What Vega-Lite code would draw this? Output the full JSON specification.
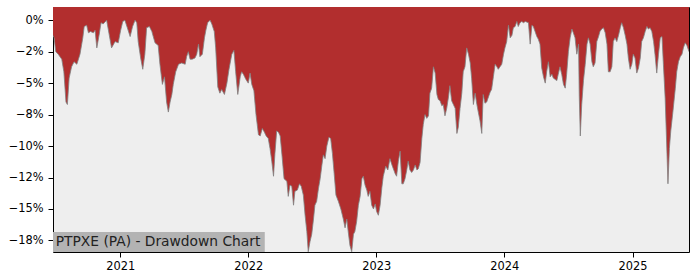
{
  "$schema": "https://vega.github.io/schema/vega-lite/v6.json",
  "width": 636,
  "height": 245,
  "autosize": {"type": "none"},
  "padding": {"left": 53, "top": 7, "right": 11, "bottom": 28},
  "background": "white",
  "config": {
    "view": {"fill": "#eeeeee", "stroke": "#000000", "strokeWidth": 1},
    "font": "DejaVu Sans",
    "axis": {"grid": false, "domain": false, "title": null}
  },
  "layer": [
    {
      "data": {"name": "dd", "values": [
    {"date": "2020-06-23", "dd": -1.2}, {"date": "2020-06-26", "dd": -1.4}, {"date": "2020-07-01", "dd": -2.5}, {"date": "2020-07-08", "dd": -2.7},
    {"date": "2020-07-18", "dd": -3.1}, {"date": "2020-07-24", "dd": -4.1}, {"date": "2020-07-30", "dd": -6.5}, {"date": "2020-08-03", "dd": -6.7},
    {"date": "2020-08-08", "dd": -4.6}, {"date": "2020-08-15", "dd": -3.7}, {"date": "2020-08-22", "dd": -3.3}, {"date": "2020-08-30", "dd": -3.5},
    {"date": "2020-09-08", "dd": -2.7}, {"date": "2020-09-16", "dd": -1.4}, {"date": "2020-09-20", "dd": -0.5}, {"date": "2020-09-27", "dd": -0.4},
    {"date": "2020-10-02", "dd": -1.0}, {"date": "2020-10-08", "dd": -0.9}, {"date": "2020-10-16", "dd": -1.0}, {"date": "2020-10-21", "dd": -0.8},
    {"date": "2020-10-26", "dd": -2.2}, {"date": "2020-11-02", "dd": -1.1}, {"date": "2020-11-07", "dd": -0.2}, {"date": "2020-11-13", "dd": -0.3},
    {"date": "2020-11-23", "dd": 0}, {"date": "2020-11-30", "dd": -1.1}, {"date": "2020-12-07", "dd": -2.2}, {"date": "2020-12-17", "dd": -1.7},
    {"date": "2020-12-26", "dd": -1.8}, {"date": "2021-01-02", "dd": -0.8}, {"date": "2021-01-08", "dd": -0.1}, {"date": "2021-01-14", "dd": 0},
    {"date": "2021-01-21", "dd": -0.6}, {"date": "2021-01-29", "dd": -1.3}, {"date": "2021-02-05", "dd": -0.5}, {"date": "2021-02-12", "dd": 0},
    {"date": "2021-02-17", "dd": -0.2}, {"date": "2021-02-21", "dd": -1.7}, {"date": "2021-02-28", "dd": -3.0}, {"date": "2021-03-06", "dd": -3.9},
    {"date": "2021-03-12", "dd": -2.7}, {"date": "2021-03-17", "dd": -0.6}, {"date": "2021-03-25", "dd": -0.5}, {"date": "2021-04-01", "dd": -0.9},
    {"date": "2021-04-10", "dd": -1.8}, {"date": "2021-04-19", "dd": -2.0}, {"date": "2021-04-24", "dd": -3.5}, {"date": "2021-05-01", "dd": -5.1},
    {"date": "2021-05-07", "dd": -4.5}, {"date": "2021-05-13", "dd": -6.5}, {"date": "2021-05-18", "dd": -7.3}, {"date": "2021-05-23", "dd": -6.5},
    {"date": "2021-05-28", "dd": -5.9}, {"date": "2021-06-01", "dd": -5.1}, {"date": "2021-06-08", "dd": -4.1}, {"date": "2021-06-16", "dd": -3.5},
    {"date": "2021-06-25", "dd": -3.4}, {"date": "2021-07-05", "dd": -3.5}, {"date": "2021-07-09", "dd": -2.9}, {"date": "2021-07-14", "dd": -2.5},
    {"date": "2021-07-19", "dd": -3.1}, {"date": "2021-07-25", "dd": -3.1}, {"date": "2021-08-02", "dd": -3.0}, {"date": "2021-08-07", "dd": -2.7},
    {"date": "2021-08-12", "dd": -1.9}, {"date": "2021-08-16", "dd": -2.9}, {"date": "2021-08-23", "dd": -2.7}, {"date": "2021-08-29", "dd": -1.4},
    {"date": "2021-09-02", "dd": -0.8}, {"date": "2021-09-07", "dd": -0.2}, {"date": "2021-09-14", "dd": 0}, {"date": "2021-09-19", "dd": -0.3},
    {"date": "2021-09-26", "dd": -0.9}, {"date": "2021-09-30", "dd": -2.2}, {"date": "2021-10-06", "dd": -5.3}, {"date": "2021-10-12", "dd": -5.8},
    {"date": "2021-10-17", "dd": -5.5}, {"date": "2021-10-25", "dd": -5.9}, {"date": "2021-11-01", "dd": -5.0}, {"date": "2021-11-07", "dd": -3.9},
    {"date": "2021-11-15", "dd": -2.7}, {"date": "2021-11-21", "dd": -2.4}, {"date": "2021-11-26", "dd": -4.1}, {"date": "2021-12-02", "dd": -5.9},
    {"date": "2021-12-09", "dd": -4.5}, {"date": "2021-12-13", "dd": -4.1}, {"date": "2021-12-18", "dd": -4.3}, {"date": "2021-12-25", "dd": -4.7},
    {"date": "2022-01-01", "dd": -5.0}, {"date": "2022-01-06", "dd": -4.2}, {"date": "2022-01-11", "dd": -5.1}, {"date": "2022-01-17", "dd": -5.6},
    {"date": "2022-01-23", "dd": -7.5}, {"date": "2022-01-30", "dd": -9.1}, {"date": "2022-02-04", "dd": -9.2}, {"date": "2022-02-10", "dd": -8.6},
    {"date": "2022-02-16", "dd": -8.9}, {"date": "2022-02-21", "dd": -9.2}, {"date": "2022-02-27", "dd": -9.4}, {"date": "2022-03-04", "dd": -10.2},
    {"date": "2022-03-09", "dd": -11.2}, {"date": "2022-03-14", "dd": -12.4}, {"date": "2022-03-18", "dd": -10.6}, {"date": "2022-03-23", "dd": -8.8},
    {"date": "2022-03-28", "dd": -8.9}, {"date": "2022-04-02", "dd": -9.2}, {"date": "2022-04-07", "dd": -10.7}, {"date": "2022-04-13", "dd": -12.6},
    {"date": "2022-04-21", "dd": -12.8}, {"date": "2022-04-25", "dd": -14.0}, {"date": "2022-04-30", "dd": -13.1}, {"date": "2022-05-05", "dd": -13.2},
    {"date": "2022-05-10", "dd": -14.7}, {"date": "2022-05-14", "dd": -13.6}, {"date": "2022-05-21", "dd": -13.5}, {"date": "2022-05-27", "dd": -13.0},
    {"date": "2022-06-01", "dd": -13.2}, {"date": "2022-06-07", "dd": -13.9}, {"date": "2022-06-12", "dd": -15.5}, {"date": "2022-06-17", "dd": -16.8},
    {"date": "2022-06-21", "dd": -18.4}, {"date": "2022-06-26", "dd": -17.6}, {"date": "2022-07-01", "dd": -17.0}, {"date": "2022-07-06", "dd": -15.8},
    {"date": "2022-07-10", "dd": -14.7}, {"date": "2022-07-15", "dd": -14.4}, {"date": "2022-07-20", "dd": -13.4}, {"date": "2022-07-25", "dd": -12.6},
    {"date": "2022-07-30", "dd": -11.5}, {"date": "2022-08-03", "dd": -10.7}, {"date": "2022-08-08", "dd": -11.0}, {"date": "2022-08-13", "dd": -10.0},
    {"date": "2022-08-19", "dd": -9.3}, {"date": "2022-08-24", "dd": -9.4}, {"date": "2022-08-29", "dd": -10.6}, {"date": "2022-09-03", "dd": -12.2},
    {"date": "2022-09-08", "dd": -13.9}, {"date": "2022-09-15", "dd": -14.4}, {"date": "2022-09-22", "dd": -15.0}, {"date": "2022-09-29", "dd": -15.8},
    {"date": "2022-10-04", "dd": -16.5}, {"date": "2022-10-09", "dd": -15.8}, {"date": "2022-10-13", "dd": -16.8}, {"date": "2022-10-18", "dd": -17.9},
    {"date": "2022-10-23", "dd": -18.4}, {"date": "2022-10-28", "dd": -17.0}, {"date": "2022-11-01", "dd": -16.8}, {"date": "2022-11-06", "dd": -16.0},
    {"date": "2022-11-11", "dd": -14.7}, {"date": "2022-11-16", "dd": -14.0}, {"date": "2022-11-21", "dd": -12.6}, {"date": "2022-11-25", "dd": -12.4},
    {"date": "2022-11-30", "dd": -13.1}, {"date": "2022-12-05", "dd": -13.5}, {"date": "2022-12-09", "dd": -14.0}, {"date": "2022-12-14", "dd": -13.6},
    {"date": "2022-12-19", "dd": -14.7}, {"date": "2022-12-24", "dd": -15.0}, {"date": "2022-12-29", "dd": -14.6}, {"date": "2023-01-02", "dd": -15.2},
    {"date": "2023-01-07", "dd": -15.5}, {"date": "2023-01-12", "dd": -14.7}, {"date": "2023-01-17", "dd": -13.3}, {"date": "2023-01-21", "dd": -12.4},
    {"date": "2023-01-28", "dd": -11.6}, {"date": "2023-02-03", "dd": -11.9}, {"date": "2023-02-09", "dd": -11.0}, {"date": "2023-02-16", "dd": -11.6},
    {"date": "2023-02-24", "dd": -12.2}, {"date": "2023-02-28", "dd": -12.4}, {"date": "2023-03-05", "dd": -11.2}, {"date": "2023-03-10", "dd": -10.4},
    {"date": "2023-03-15", "dd": -13.0}, {"date": "2023-03-19", "dd": -13.0}, {"date": "2023-03-24", "dd": -12.6}, {"date": "2023-03-29", "dd": -11.9},
    {"date": "2023-04-02", "dd": -11.2}, {"date": "2023-04-07", "dd": -11.9}, {"date": "2023-04-12", "dd": -12.1}, {"date": "2023-04-17", "dd": -11.9},
    {"date": "2023-04-22", "dd": -11.5}, {"date": "2023-04-27", "dd": -11.9}, {"date": "2023-05-01", "dd": -11.8}, {"date": "2023-05-06", "dd": -11.3},
    {"date": "2023-05-11", "dd": -9.4}, {"date": "2023-05-15", "dd": -8.3}, {"date": "2023-05-20", "dd": -7.5}, {"date": "2023-05-25", "dd": -7.8},
    {"date": "2023-05-30", "dd": -7.6}, {"date": "2023-06-03", "dd": -5.8}, {"date": "2023-06-08", "dd": -5.4}, {"date": "2023-06-13", "dd": -3.7},
    {"date": "2023-06-18", "dd": -4.2}, {"date": "2023-06-23", "dd": -5.9}, {"date": "2023-06-27", "dd": -6.3}, {"date": "2023-07-02", "dd": -6.4},
    {"date": "2023-07-07", "dd": -6.8}, {"date": "2023-07-11", "dd": -6.7}, {"date": "2023-07-16", "dd": -7.6}, {"date": "2023-07-21", "dd": -7.0},
    {"date": "2023-07-26", "dd": -6.1}, {"date": "2023-07-30", "dd": -5.2}, {"date": "2023-08-04", "dd": -6.4}, {"date": "2023-08-09", "dd": -6.7},
    {"date": "2023-08-14", "dd": -7.0}, {"date": "2023-08-19", "dd": -9.0}, {"date": "2023-08-23", "dd": -8.5}, {"date": "2023-08-28", "dd": -7.0},
    {"date": "2023-09-02", "dd": -5.8}, {"date": "2023-09-06", "dd": -4.1}, {"date": "2023-09-11", "dd": -3.7}, {"date": "2023-09-16", "dd": -2.2},
    {"date": "2023-09-21", "dd": -2.7}, {"date": "2023-09-26", "dd": -3.4}, {"date": "2023-09-30", "dd": -4.6}, {"date": "2023-10-05", "dd": -6.7},
    {"date": "2023-10-10", "dd": -5.8}, {"date": "2023-10-15", "dd": -6.7}, {"date": "2023-10-19", "dd": -7.3}, {"date": "2023-10-24", "dd": -8.0},
    {"date": "2023-10-29", "dd": -9.0}, {"date": "2023-11-02", "dd": -5.9}, {"date": "2023-11-07", "dd": -6.6}, {"date": "2023-11-12", "dd": -6.5},
    {"date": "2023-11-17", "dd": -6.1}, {"date": "2023-11-22", "dd": -5.7}, {"date": "2023-11-26", "dd": -5.5}, {"date": "2023-12-01", "dd": -4.5},
    {"date": "2023-12-06", "dd": -3.5}, {"date": "2023-12-11", "dd": -3.7}, {"date": "2023-12-15", "dd": -3.9}, {"date": "2023-12-20", "dd": -3.7},
    {"date": "2023-12-25", "dd": -3.5}, {"date": "2023-12-30", "dd": -2.7}, {"date": "2024-01-03", "dd": -2.2}, {"date": "2024-01-08", "dd": -1.7},
    {"date": "2024-01-13", "dd": -0.4}, {"date": "2024-01-18", "dd": -1.4}, {"date": "2024-01-23", "dd": -1.2}, {"date": "2024-01-27", "dd": -0.6},
    {"date": "2024-02-01", "dd": -0.5}, {"date": "2024-02-06", "dd": -0.1}, {"date": "2024-02-10", "dd": -0.5}, {"date": "2024-02-15", "dd": -0.2},
    {"date": "2024-02-20", "dd": -0.1}, {"date": "2024-02-25", "dd": -0.2}, {"date": "2024-03-01", "dd": -0.1}, {"date": "2024-03-05", "dd": -0.15},
    {"date": "2024-03-10", "dd": -0.2}, {"date": "2024-03-15", "dd": -1.9}, {"date": "2024-03-20", "dd": -0.4}, {"date": "2024-03-24", "dd": -0.5},
    {"date": "2024-03-29", "dd": -0.9}, {"date": "2024-04-03", "dd": -1.3}, {"date": "2024-04-07", "dd": -1.5}, {"date": "2024-04-12", "dd": -1.9},
    {"date": "2024-04-17", "dd": -3.8}, {"date": "2024-04-22", "dd": -4.5}, {"date": "2024-04-27", "dd": -5.0}, {"date": "2024-05-01", "dd": -4.1},
    {"date": "2024-05-06", "dd": -3.3}, {"date": "2024-05-11", "dd": -4.5}, {"date": "2024-05-16", "dd": -4.3}, {"date": "2024-05-20", "dd": -4.6},
    {"date": "2024-05-25", "dd": -4.7}, {"date": "2024-05-30", "dd": -4.8}, {"date": "2024-06-03", "dd": -4.3}, {"date": "2024-06-08", "dd": -3.7},
    {"date": "2024-06-13", "dd": -4.3}, {"date": "2024-06-18", "dd": -5.1}, {"date": "2024-06-23", "dd": -5.4}, {"date": "2024-06-27", "dd": -4.3},
    {"date": "2024-07-02", "dd": -2.5}, {"date": "2024-07-07", "dd": -1.4}, {"date": "2024-07-12", "dd": -0.7}, {"date": "2024-07-16", "dd": -1.0},
    {"date": "2024-07-21", "dd": -1.4}, {"date": "2024-07-26", "dd": -2.7}, {"date": "2024-07-31", "dd": -1.9}, {"date": "2024-08-02", "dd": -6.0},
    {"date": "2024-08-05", "dd": -9.2}, {"date": "2024-08-09", "dd": -6.7}, {"date": "2024-08-14", "dd": -4.8}, {"date": "2024-08-19", "dd": -3.5},
    {"date": "2024-08-24", "dd": -1.9}, {"date": "2024-08-28", "dd": -1.4}, {"date": "2024-09-02", "dd": -1.9}, {"date": "2024-09-07", "dd": -3.3},
    {"date": "2024-09-11", "dd": -3.7}, {"date": "2024-09-16", "dd": -3.4}, {"date": "2024-09-21", "dd": -1.7}, {"date": "2024-09-26", "dd": -1.3},
    {"date": "2024-09-30", "dd": -0.9}, {"date": "2024-10-05", "dd": -0.7}, {"date": "2024-10-10", "dd": -0.6}, {"date": "2024-10-15", "dd": -1.0},
    {"date": "2024-10-20", "dd": -1.9}, {"date": "2024-10-24", "dd": -4.1}, {"date": "2024-10-29", "dd": -4.1}, {"date": "2024-11-03", "dd": -3.7},
    {"date": "2024-11-07", "dd": -1.7}, {"date": "2024-11-12", "dd": -1.4}, {"date": "2024-11-17", "dd": -1.7}, {"date": "2024-11-22", "dd": -1.2},
    {"date": "2024-11-27", "dd": -0.6}, {"date": "2024-12-01", "dd": -0.2}, {"date": "2024-12-06", "dd": -0.6}, {"date": "2024-12-11", "dd": -1.2},
    {"date": "2024-12-16", "dd": -1.9}, {"date": "2024-12-20", "dd": -3.0}, {"date": "2024-12-25", "dd": -3.9}, {"date": "2024-12-30", "dd": -3.5},
    {"date": "2025-01-03", "dd": -2.7}, {"date": "2025-01-08", "dd": -3.0}, {"date": "2025-01-13", "dd": -4.2}, {"date": "2025-01-18", "dd": -3.8},
    {"date": "2025-01-23", "dd": -3.0}, {"date": "2025-01-27", "dd": -1.7}, {"date": "2025-02-01", "dd": -1.4}, {"date": "2025-02-06", "dd": -0.9},
    {"date": "2025-02-11", "dd": -0.5}, {"date": "2025-02-15", "dd": -0.7}, {"date": "2025-02-20", "dd": -0.6}, {"date": "2025-02-25", "dd": -0.9},
    {"date": "2025-03-02", "dd": -1.7}, {"date": "2025-03-06", "dd": -2.7}, {"date": "2025-03-11", "dd": -4.2}, {"date": "2025-03-16", "dd": -2.7},
    {"date": "2025-03-21", "dd": -1.4}, {"date": "2025-03-26", "dd": -1.3}, {"date": "2025-03-30", "dd": -3.5}, {"date": "2025-04-04", "dd": -6.2},
    {"date": "2025-04-09", "dd": -10.4}, {"date": "2025-04-12", "dd": -13.0}, {"date": "2025-04-16", "dd": -10.2}, {"date": "2025-04-20", "dd": -8.8},
    {"date": "2025-04-26", "dd": -7.3}, {"date": "2025-05-03", "dd": -5.4}, {"date": "2025-05-07", "dd": -4.1}, {"date": "2025-05-12", "dd": -3.3},
    {"date": "2025-05-17", "dd": -2.9}, {"date": "2025-05-22", "dd": -2.7}, {"date": "2025-05-26", "dd": -2.2}, {"date": "2025-05-31", "dd": -1.8},
    {"date": "2025-06-05", "dd": -2.0}, {"date": "2025-06-11", "dd": -2.5}
      ]},
      "encoding": {
        "x": {
          "field": "date", "type": "temporal",
          "scale": {"domain": [{"year": 2020, "month": 6, "date": 23}, {"year": 2025, "month": 6, "date": 11}]},
          "axis": {
            "tickCount": {"interval": "year", "step": 1}, "format": "%Y",
            "tickSize": 5, "tickColor": "#000000", "tickWidth": 1, "labelOverlap": false,
            "labelFontSize": 11.4, "labelColor": "#000000", "labelPadding": 3, "labelFont": "DejaVu Sans"
          }
        },
        "y": {
          "field": "dd", "type": "quantitative",
          "scale": {"domain": [-18.42, 1.05], "nice": false, "zero": false},
          "axis": {
            "labelOverlap": false, "tickCount": 20,
            "values": [0, -2.5, -5, -7.5, -10, -12.5, -15, -17.5],
            "labelExpr": "datum.value == 0 ? '0%' : datum.value == -2.5 ? '\u22122%' : datum.value == -5 ? '\u22125%' : datum.value == -7.5 ? '\u22128%' : datum.value == -10 ? '\u221210%' : datum.value == -12.5 ? '\u221212%' : datum.value == -15 ? '\u221215%' : '\u221218%'",
            "tickSize": 5, "tickColor": "#000000", "tickWidth": 1,
            "labelFontSize": 11.4, "labelColor": "#000000", "labelPadding": 5, "labelFont": "DejaVu Sans"
          }
        }
      },
      "layer": [
        {
          "mark": {"type": "area", "color": "#b22e2e", "clip": true},
          "encoding": {"y2": {"datum": 1.05}}
        },
        {
          "mark": {"type": "line", "color": "#808080", "strokeWidth": 0.8, "clip": true},
          "encoding": {}
        }
      ]
    },
    {
      "data": {"values": [{"label": "PTPXE (PA) - Drawdown Chart"}]},
      "layer": [
        {
          "mark": {"type": "rect", "fill": "#b3b3b3", "stroke": null},
          "encoding": {
            "x": {"datum": {"year": 2020, "month": 6, "date": 23}, "type": "temporal"},
            "x2": {"datum": {"year": 2022, "month": 2, "date": 17}},
            "y": {"datum": -18.42, "type": "quantitative"},
            "y2": {"datum": -16.83}
          }
        },
        {
          "mark": {"type": "text", "align": "left", "baseline": "middle", "fontSize": 13.8, "fill": "#222222", "font": "DejaVu Sans"},
          "encoding": {
            "text": {"field": "label"},
            "x": {"datum": {"year": 2020, "month": 7, "date": 1}, "type": "temporal"},
            "y": {"datum": -17.62, "type": "quantitative"}
          }
        }
      ]
    }
  ]
}
